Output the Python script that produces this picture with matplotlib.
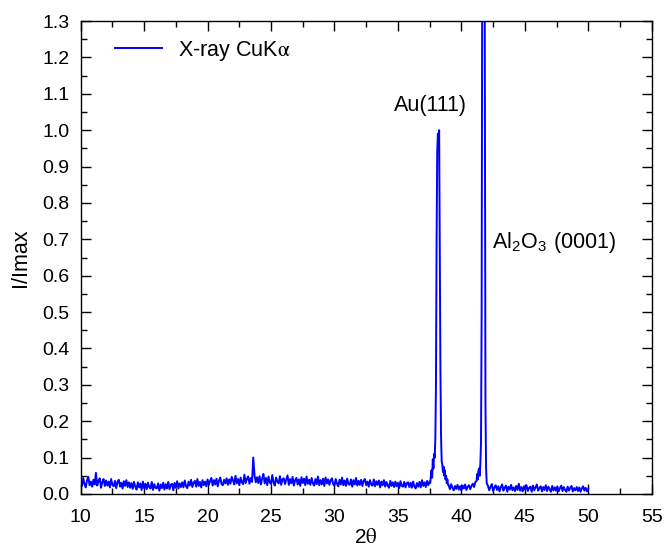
import numpy as np
import matplotlib
matplotlib.use('Agg')
import matplotlib.pyplot as plt
from matplotlib.ticker import MultipleLocator

plt.rcParams['font.family'] = ['Liberation Sans', 'DejaVu Sans']
plt.rcParams['mathtext.fontset'] = 'stix'

# baseline 10.0 - 37.5 deg, step 0.1 (values in 1/1000 of Imax)
base1 = [40,22,44,27,18,38,47,24,34,20,39,26,58,23,36,43,17,33,41,22,
         37,23,34,18,41,25,21,36,16,33,39,20,31,15,35,22,38,19,32,17,
         30,14,33,20,12,32,18,29,11,34,16,28,13,31,19,15,33,11,27,17,
         15,29,9,26,16,31,12,27,15,33,13,25,28,10,30,17,35,15,29,19,
         32,18,37,21,16,34,23,39,19,31,36,20,41,22,33,18,38,24,34,21,
         40,25,36,44,23,38,26,42,21,37,45,27,24,39,29,43,25,40,28,47,
         38,26,50,29,41,24,45,32,27,53,30,42,48,28,44,33,100,51,32,46,
         30,49,26,42,55,29,44,24,48,32,27,52,31,23,45,34,29,49,25,40,
         43,27,39,51,25,41,29,47,23,38,44,26,40,22,46,30,42,24,48,28,
         39,25,44,29,23,41,27,48,24,38,26,42,22,45,29,40,25,37,43,27,
         23,41,28,21,39,26,45,24,37,22,42,27,25,40,20,38,26,44,23,36,
         25,39,22,36,41,24,34,20,38,26,23,40,21,35,25,37,18,34,24,38,
         20,33,23,17,36,22,32,19,34,21,31,16,35,22,20,33,18,30,32,19,
         31,17,34,21,15,30,20,33,18,38,22,32,19,36,24,34]
x1 = np.linspace(10.0, 37.5, len(base1))

# Au(111) peak
au_x = [37.55, 37.6, 37.65, 37.7, 37.75, 37.8, 37.85, 37.9, 37.95, 38.0, 38.05,
        38.1, 38.15, 38.2, 38.25, 38.3, 38.35, 38.4, 38.45, 38.5, 38.55, 38.6,
        38.65, 38.7, 38.75, 38.8, 38.85, 38.9, 38.95]
au_y = [0.030, 0.050, 0.065, 0.045, 0.095, 0.070, 0.110, 0.100, 0.150, 0.300, 0.700,
        0.940, 0.990, 0.960, 1.000, 0.700, 0.350, 0.160, 0.090, 0.080, 0.060, 0.075,
        0.050, 0.065, 0.040, 0.050, 0.030, 0.040, 0.025]

# baseline 39.0 - 41.2
base2 = [24,13,27,16,10,22,14,25,12,21,9,23,15,26,11,20,24,13,22,28,19,32,36]
x2 = np.linspace(39.0, 41.2, len(base2))

# Al2O3 (0001) peak
al_x = [41.25, 41.3, 41.35, 41.4, 41.45, 41.5, 41.55, 41.6, 41.65, 41.7, 41.75,
        41.8, 41.85, 41.9, 41.95, 42.0]
al_y = [0.055, 0.040, 0.065, 0.070, 0.050, 0.085, 0.140, 0.500, 1.500, 3.000, 5.000,
        3.000, 1.200, 0.250, 0.070, 0.030]

# baseline 42.1 - 50.0
base3 = [22,10,20,27,8,18,24,11,21,7,19,26,9,17,23,6,20,12,25,10,
         18,8,22,11,28,9,19,7,21,12,24,8,17,20,6,23,10,18,26,9,
         16,21,7,19,11,24,8,20,13,6,22,10,18,9,21,7,16,23,8,19,
         11,6,20,9,17,22,7,16,10,19,8,18,6,15,21,9,17,7,14]
x3 = np.linspace(42.1, 50.0, len(base3))

x = np.concatenate([x1, au_x, x2, al_x, x3])
y = np.concatenate([np.array(base1) / 1000, au_y, np.array(base2) / 1000,
                    al_y, np.array(base3) / 1000])

fig = plt.figure(figsize=(6.67, 5.55), dpi=100)
ax = fig.add_axes([0.121, 0.110, 0.856, 0.852])

ax.plot(x, y, color='#0000ff', lw=1.4, label='X-ray CuK$\\mathrm{\\alpha}$')

ax.set_xlim(10, 55)
ax.set_ylim(0, 1.3)
ax.xaxis.set_major_locator(MultipleLocator(5))
ax.xaxis.set_minor_locator(MultipleLocator(2.5))
ax.yaxis.set_major_locator(MultipleLocator(0.1))
ax.yaxis.set_minor_locator(MultipleLocator(0.05))
ax.yaxis.set_major_formatter(matplotlib.ticker.FormatStrFormatter('%.1f'))
ax.tick_params(which='both', direction='in', top=True, right=True,
               labelsize=14, color='black')
ax.tick_params(axis='x', which='both', pad=11)
ax.tick_params(axis='y', which='both', pad=8)
ax.tick_params(which='major', length=7, width=1)
ax.tick_params(which='minor', length=4, width=1)
for s in ax.spines.values():
    s.set_linewidth(1)

ax.set_xlabel('2$\\mathrm{\\theta}$', fontsize=15, labelpad=1)
ax.set_ylabel('I/Imax', fontsize=15.5, labelpad=8)

ax.text(37.55, 1.069, 'Au(111)', fontsize=15.5, ha='center', va='center')
ax.text(42.4, 0.69, 'Al$_\\mathregular{2}$O$_\\mathregular{3}$ (0001)',
        fontsize=15.5, ha='left', va='center')

ax.legend(loc='center left', bbox_to_anchor=(0.06, 0.937), frameon=False,
          fontsize=15.5, handlelength=2.2, handletextpad=0.75,
          borderpad=0, borderaxespad=0)

fig.savefig('out.png', dpi=100)
